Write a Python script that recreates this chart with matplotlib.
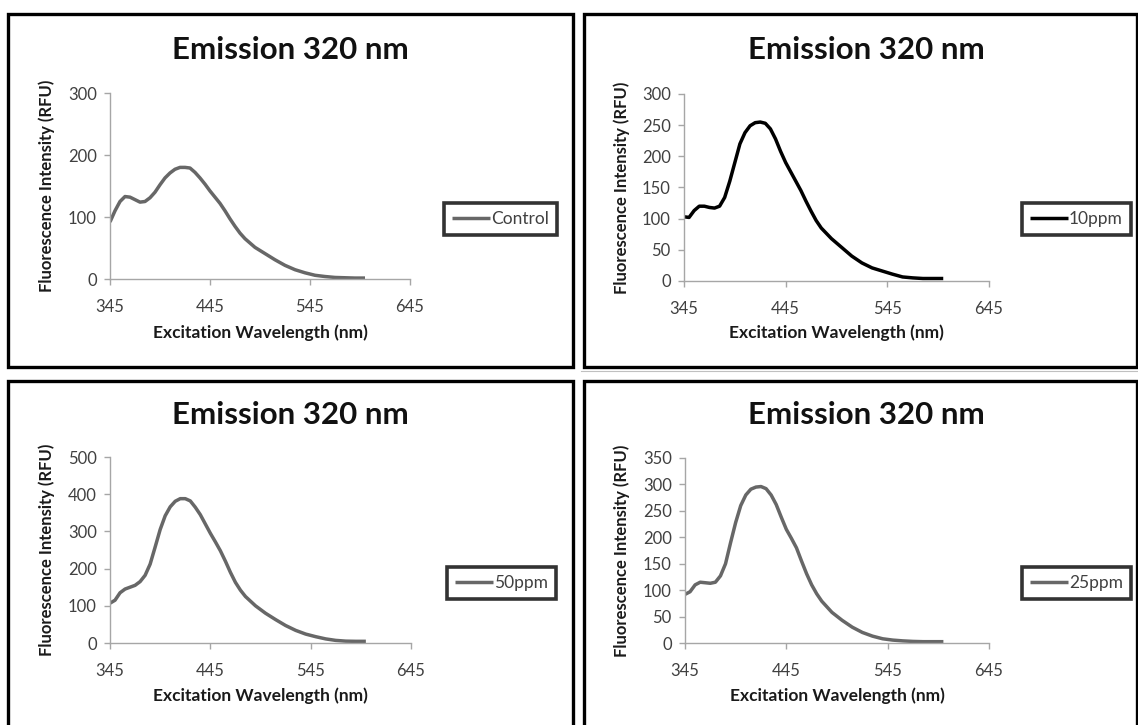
import matplotlib
matplotlib.use("Agg")
from matplotlib import pyplot as plt
from matplotlib.patches import Rectangle
from matplotlib.lines import Line2D

plt.rcParams['font.family'] = ['Lato', 'DejaVu Sans']

# excitation wavelengths (nm), shared by all four spectra
wavelength = [345, 350, 355, 360, 365, 370, 375, 380, 385, 390, 395, 400, 405, 410,
              415, 420, 425, 430, 435, 440, 445, 450, 455, 460, 465, 470, 475, 480,
              490, 500, 510, 520, 530, 540, 550, 560, 570, 580, 590, 600]

control = [92, 110, 125, 133, 132, 128, 124, 125, 131, 140, 152, 163, 171, 177,
           180, 180, 179, 172, 163, 153, 142, 132, 122, 110, 97, 85, 74, 65,
           51, 41, 31, 22, 15, 10, 6, 4, 2.5, 2, 1.5, 1.5]

ppm10 = [103, 102, 113, 120, 120, 118, 117, 120, 134, 160, 190, 220, 238, 249,
         254, 255, 253, 244, 228, 208, 190, 175, 160, 145, 128, 112, 97, 85,
         68, 54, 40, 29, 21, 16, 11, 6.5, 5, 4, 4, 4]

ppm50 = [107, 115, 135, 145, 150, 155, 165, 182, 212, 258, 305, 342, 366, 381,
         388, 388, 382, 365, 345, 320, 295, 272, 248, 220, 190, 163, 142, 125,
         100, 80, 63, 47, 34, 24, 17, 11, 7, 5, 4.5, 4.5]

ppm25 = [92, 97, 110, 115, 114, 113, 115, 127, 150, 190, 228, 260, 280, 291,
         295, 296, 292, 280, 262, 238, 215, 198, 180, 155, 131, 110, 93, 79,
         58, 43, 30, 20, 13, 8, 5.5, 4, 3, 2.5, 2.5, 2.5]

labels = ["Control", "10ppm", "50ppm", "25ppm"]
series = [control, ppm10, ppm50, ppm25]
colors = ["#676767", "#000000", "#676767", "#676767"]
y_max = [300, 300, 500, 350]
y_step = [100, 50, 100, 50]
x_ticks = [345, 445, 545, 645]

W, H = 1138, 725
fig = plt.figure(figsize=(W / 100, H / 100), dpi=100)

# pixel boxes: plot area (left, right, top, bottom), panel frame, legend, title
axes_px = [(110, 410, 93, 279), (684, 989, 94, 281),
           (110, 411, 457, 643), (685, 989, 458, 643)]
frame_px = [(8, 573, 14, 367), (584, 1137, 14, 367),
            (8, 573, 381, 740), (584, 1137, 381, 740)]
legend_px = [(444, 219), (1022, 219), (447, 583), (1022, 583)]
title_px = [(290, 50), (866, 50), (290, 415), (866, 415)]
xlabel_y = [333, 333, 696, 696]
ylabel_x = [47, 622, 47, 622]

for i in range(4):
    l, r, t, b = axes_px[i]
    ax = fig.add_axes([l / W, 1 - b / H, (r - l) / W, (b - t) / H])
    ax.plot(wavelength, series[i], color=colors[i], lw=2.5, label=labels[i],
            solid_capstyle='butt', solid_joinstyle='round')
    ax.set_xlim(345, 645)
    ax.set_ylim(0, y_max[i])
    ax.set_xticks(x_ticks)
    ax.set_yticks(range(0, y_max[i] + 1, y_step[i]))
    for s in ['top', 'right']:
        ax.spines[s].set_visible(False)
    for s in ['left', 'bottom']:
        ax.spines[s].set_color('#a6a6a6')
        ax.spines[s].set_linewidth(1)
    ax.tick_params(axis='both', colors='#a6a6a6', labelcolor='#404040',
                   labelsize=12, length=4.5, width=1, direction='out')
    ax.tick_params(axis='x', pad=10)
    ax.tick_params(axis='y', pad=5)

    ax.set_xlabel("Excitation Wavelength (nm)", fontsize=12.5, fontweight='bold',
                  color='#1a1a1a')
    ax.xaxis.label.set_va('center')
    ax.xaxis.set_label_coords(0.5, (b - xlabel_y[i]) / (b - t))
    ax.set_ylabel("Fluorescence Intensity (RFU)", fontsize=12, fontweight='bold',
                  color='#1a1a1a')
    ax.yaxis.label.set_va('center')
    ax.yaxis.set_label_coords((ylabel_x[i] - l) / (r - l), 0.5)

    tx, ty = title_px[i]
    fig.text(tx / W, 1 - ty / H, "Emission 320 nm", fontsize=22.5,
             fontweight='bold', ha='center', va='center', color='#111111')

    lx, ly = legend_px[i]
    leg = ax.legend(loc='center left', bbox_to_anchor=(lx / W, 1 - ly / H),
                    bbox_transform=fig.transFigure, fontsize=12.5, frameon=True,
                    fancybox=False, handlelength=2.2, handletextpad=0.05,
                    borderpad=0.45, borderaxespad=0)
    leg.get_frame().set_edgecolor('black')
    leg.get_frame().set_linewidth(2.6)
    for txt in leg.get_texts():
        txt.set_color('#404040')

    fl, fr, ft, fb = frame_px[i]
    fig.add_artist(Rectangle((fl / W, 1 - fb / H), (fr - fl) / W, (fb - ft) / H,
                             transform=fig.transFigure, fill=False,
                             edgecolor='black', linewidth=2.4))

# faint separator line under the top-right panel
fig.add_artist(Line2D([581 / W, 1.0], [1 - 371 / H, 1 - 371 / H],
                      transform=fig.transFigure, color='#c0c0c0', lw=0.8))

fig.savefig("out.png", dpi=100)
